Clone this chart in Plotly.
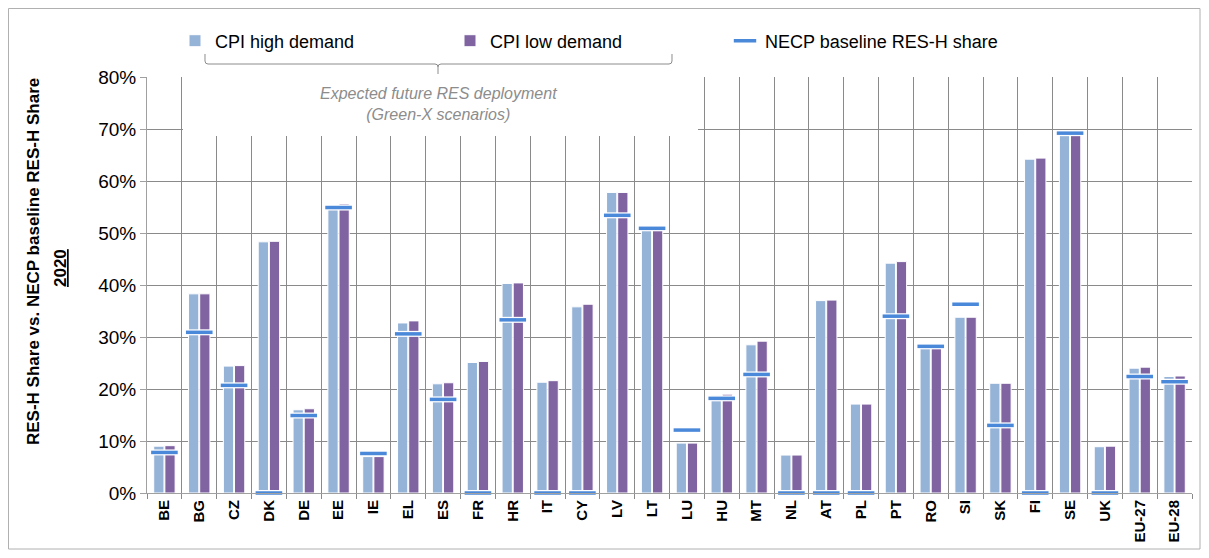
import plotly.graph_objects as go

# ---------------- data ----------------
countries = ["BE", "BG", "CZ", "DK", "DE", "EE", "IE", "EL", "ES", "FR", "HR", "IT", "CY", "LV", "LT",
             "LU", "HU", "MT", "NL", "AT", "PL", "PT", "RO", "SI", "SK", "FI", "SE", "UK", "EU-27", "EU-28"]
cpi_high = [9.0, 38.3, 24.4, 48.3, 16.0, 55.3, 7.0, 32.7, 21.0, 25.1, 40.3, 21.3, 35.8, 57.8, 50.6,
            9.6, 18.8, 28.5, 7.3, 37.0, 17.1, 44.2, 27.8, 33.8, 21.1, 64.2, 68.9, 8.9, 24.0, 22.4]
cpi_low = [9.1, 38.3, 24.5, 48.4, 16.2, 55.6, 7.0, 33.1, 21.2, 25.3, 40.4, 21.6, 36.3, 57.8, 50.9,
           9.6, 19.0, 29.2, 7.3, 37.1, 17.1, 44.5, 27.8, 33.8, 21.1, 64.4, 69.2, 9.0, 24.2, 22.5]
necp_base = [7.8, 30.9, 20.7, 0.0, 14.9, 54.9, 7.6, 30.6, 18.0, 0.0, 33.3, 0.0, 0.0, 53.4, 50.9,
             12.1, 18.2, 22.8, 0.0, 0.0, 0.0, 34.0, 28.2, 36.3, 13.0, 0.0, 69.2, 0.0, 22.4, 21.4]

high_f = [v / 100 for v in cpi_high]
low_f = [v / 100 for v in cpi_low]
necp_f = [v / 100 for v in necp_base]

# ---------------- layout geometry ----------------
# the page body adds an 8px offset; screen coords = figure coords + 8
OFF = 8
W, H = 1193, 542
PLOT_L, PLOT_R, PLOT_T, PLOT_B = 147, 1192, 77, 493          # screen coords of plot area
L = PLOT_L - OFF
T = PLOT_T - OFF
R = W - (PLOT_R - OFF)
B = H - (PLOT_B - OFF)
PW, PH = PLOT_R - PLOT_L, PLOT_B - PLOT_T


def px(x):
    return (x - PLOT_L) / PW


def py(y):
    return (PLOT_B - y) / PH


FONT = "Liberation Sans, Arial, sans-serif"
GRID = "#8a8a8a"

fig = go.Figure()
fig.add_trace(go.Bar(x=countries, y=high_f, name="CPI high demand",
                     marker=dict(color="#95B3D7", line=dict(color="white", width=1))))
fig.add_trace(go.Bar(x=countries, y=low_f, name="CPI low demand",
                     marker=dict(color="#8064A2", line=dict(color="white", width=1))))
fig.add_trace(go.Scatter(x=countries, y=necp_f, mode="markers", showlegend=False, cliponaxis=False,
                         hoverinfo="skip",
                         marker=dict(symbol="line-ew", size=22, line=dict(color="white", width=6))))
fig.add_trace(go.Scatter(x=countries, y=necp_f, mode="markers", name="NECP baseline RES-H share",
                         cliponaxis=False,
                         marker=dict(symbol="line-ew", size=19, color="#4A88DA",
                                     line=dict(color="#4A88DA", width=3.5))))

# bracket path (curly brace under the legend)
def P(x, y):
    return f"{px(x):.5f},{py(y):.5f}"

bracket = (f"M {P(205,54)} L {P(205,61)} Q {P(205,64)} {P(208,64)} L {P(435,64)} "
           f"Q {P(438,64)} {P(438,67)} L {P(438,74)} M {P(438,67)} Q {P(438,64)} {P(441,64)} "
           f"L {P(669,64)} Q {P(672,64)} {P(672,61)} L {P(672,54)}")

shapes = [
    dict(type="rect", xref="paper", yref="paper", x0=px(183), x1=px(698), y0=py(136), y1=py(15),
         fillcolor="white", line=dict(width=0), layer="above"),
    dict(type="path", xref="paper", yref="paper", path=bracket,
         line=dict(color="#8c8c8c", width=1), layer="above"),
    dict(type="rect", xref="paper", yref="paper", x0=px(8.5), x1=px(1200), y0=py(549), y1=py(8.5),
         line=dict(color="#b0b0b0", width=1), layer="below"),
]

annotations = [
    dict(xref="paper", yref="paper", x=px(438), y=py(104), xanchor="center", yanchor="middle",
         text="<i>Expected future RES deployment<br>(Green-X scenarios)</i>", showarrow=False,
         font=dict(family=FONT, size=16, color="#8c8c8c")),
    dict(xref="paper", yref="paper", x=px(33), y=py(262), xanchor="center", yanchor="middle",
         textangle=-90, showarrow=False,
         text="<b>RES-H Share vs. NECP baseline RES-H Share</b>",
         font=dict(family=FONT, size=17, color="black")),
    dict(xref="paper", yref="paper", x=px(60), y=py(268), xanchor="center", yanchor="middle",
         textangle=-90, showarrow=False,
         text="<b><u>2020</u></b>",
         font=dict(family=FONT, size=17, color="black")),
]

fig.update_layout(
    width=W, height=H,
    margin=dict(l=L, r=R, t=T, b=B, pad=0, autoexpand=False),
    paper_bgcolor="white", plot_bgcolor="white",
    barmode="group", bargap=0.36, bargroupgap=0.08,
    font=dict(family=FONT, color="black"),
    showlegend=True,
    legend=dict(orientation="h", x=px(175), y=py(41), xanchor="left", yanchor="middle",
                entrywidth=230, entrywidthmode="pixels",
                font=dict(family=FONT, size=18, color="black"), bgcolor="rgba(0,0,0,0)",
                traceorder="normal"),
    shapes=shapes,
    annotations=annotations,
    xaxis=dict(type="category", range=[-0.5, len(countries) - 0.5], autorange=False,
               tickson="boundaries", showgrid=True, gridcolor=GRID, gridwidth=1,
               ticks="outside", ticklen=5, tickcolor=GRID, tickangle=-90,
               showline=True, linecolor="#a0a0a0", linewidth=1,
               tickfont=dict(family=FONT, size=15, color="black", weight="bold")),
    yaxis=dict(range=[0, 0.8], dtick=0.1, tickformat=".0%", showgrid=True, gridcolor=GRID, gridwidth=1,
               ticks="outside", ticklen=6, tickcolor="#a0a0a0", showline=True, linecolor="#a0a0a0",
               linewidth=1, zeroline=False,
               tickfont=dict(family=FONT, size=19, color="black")),
)

fig.write_html("out.html")
